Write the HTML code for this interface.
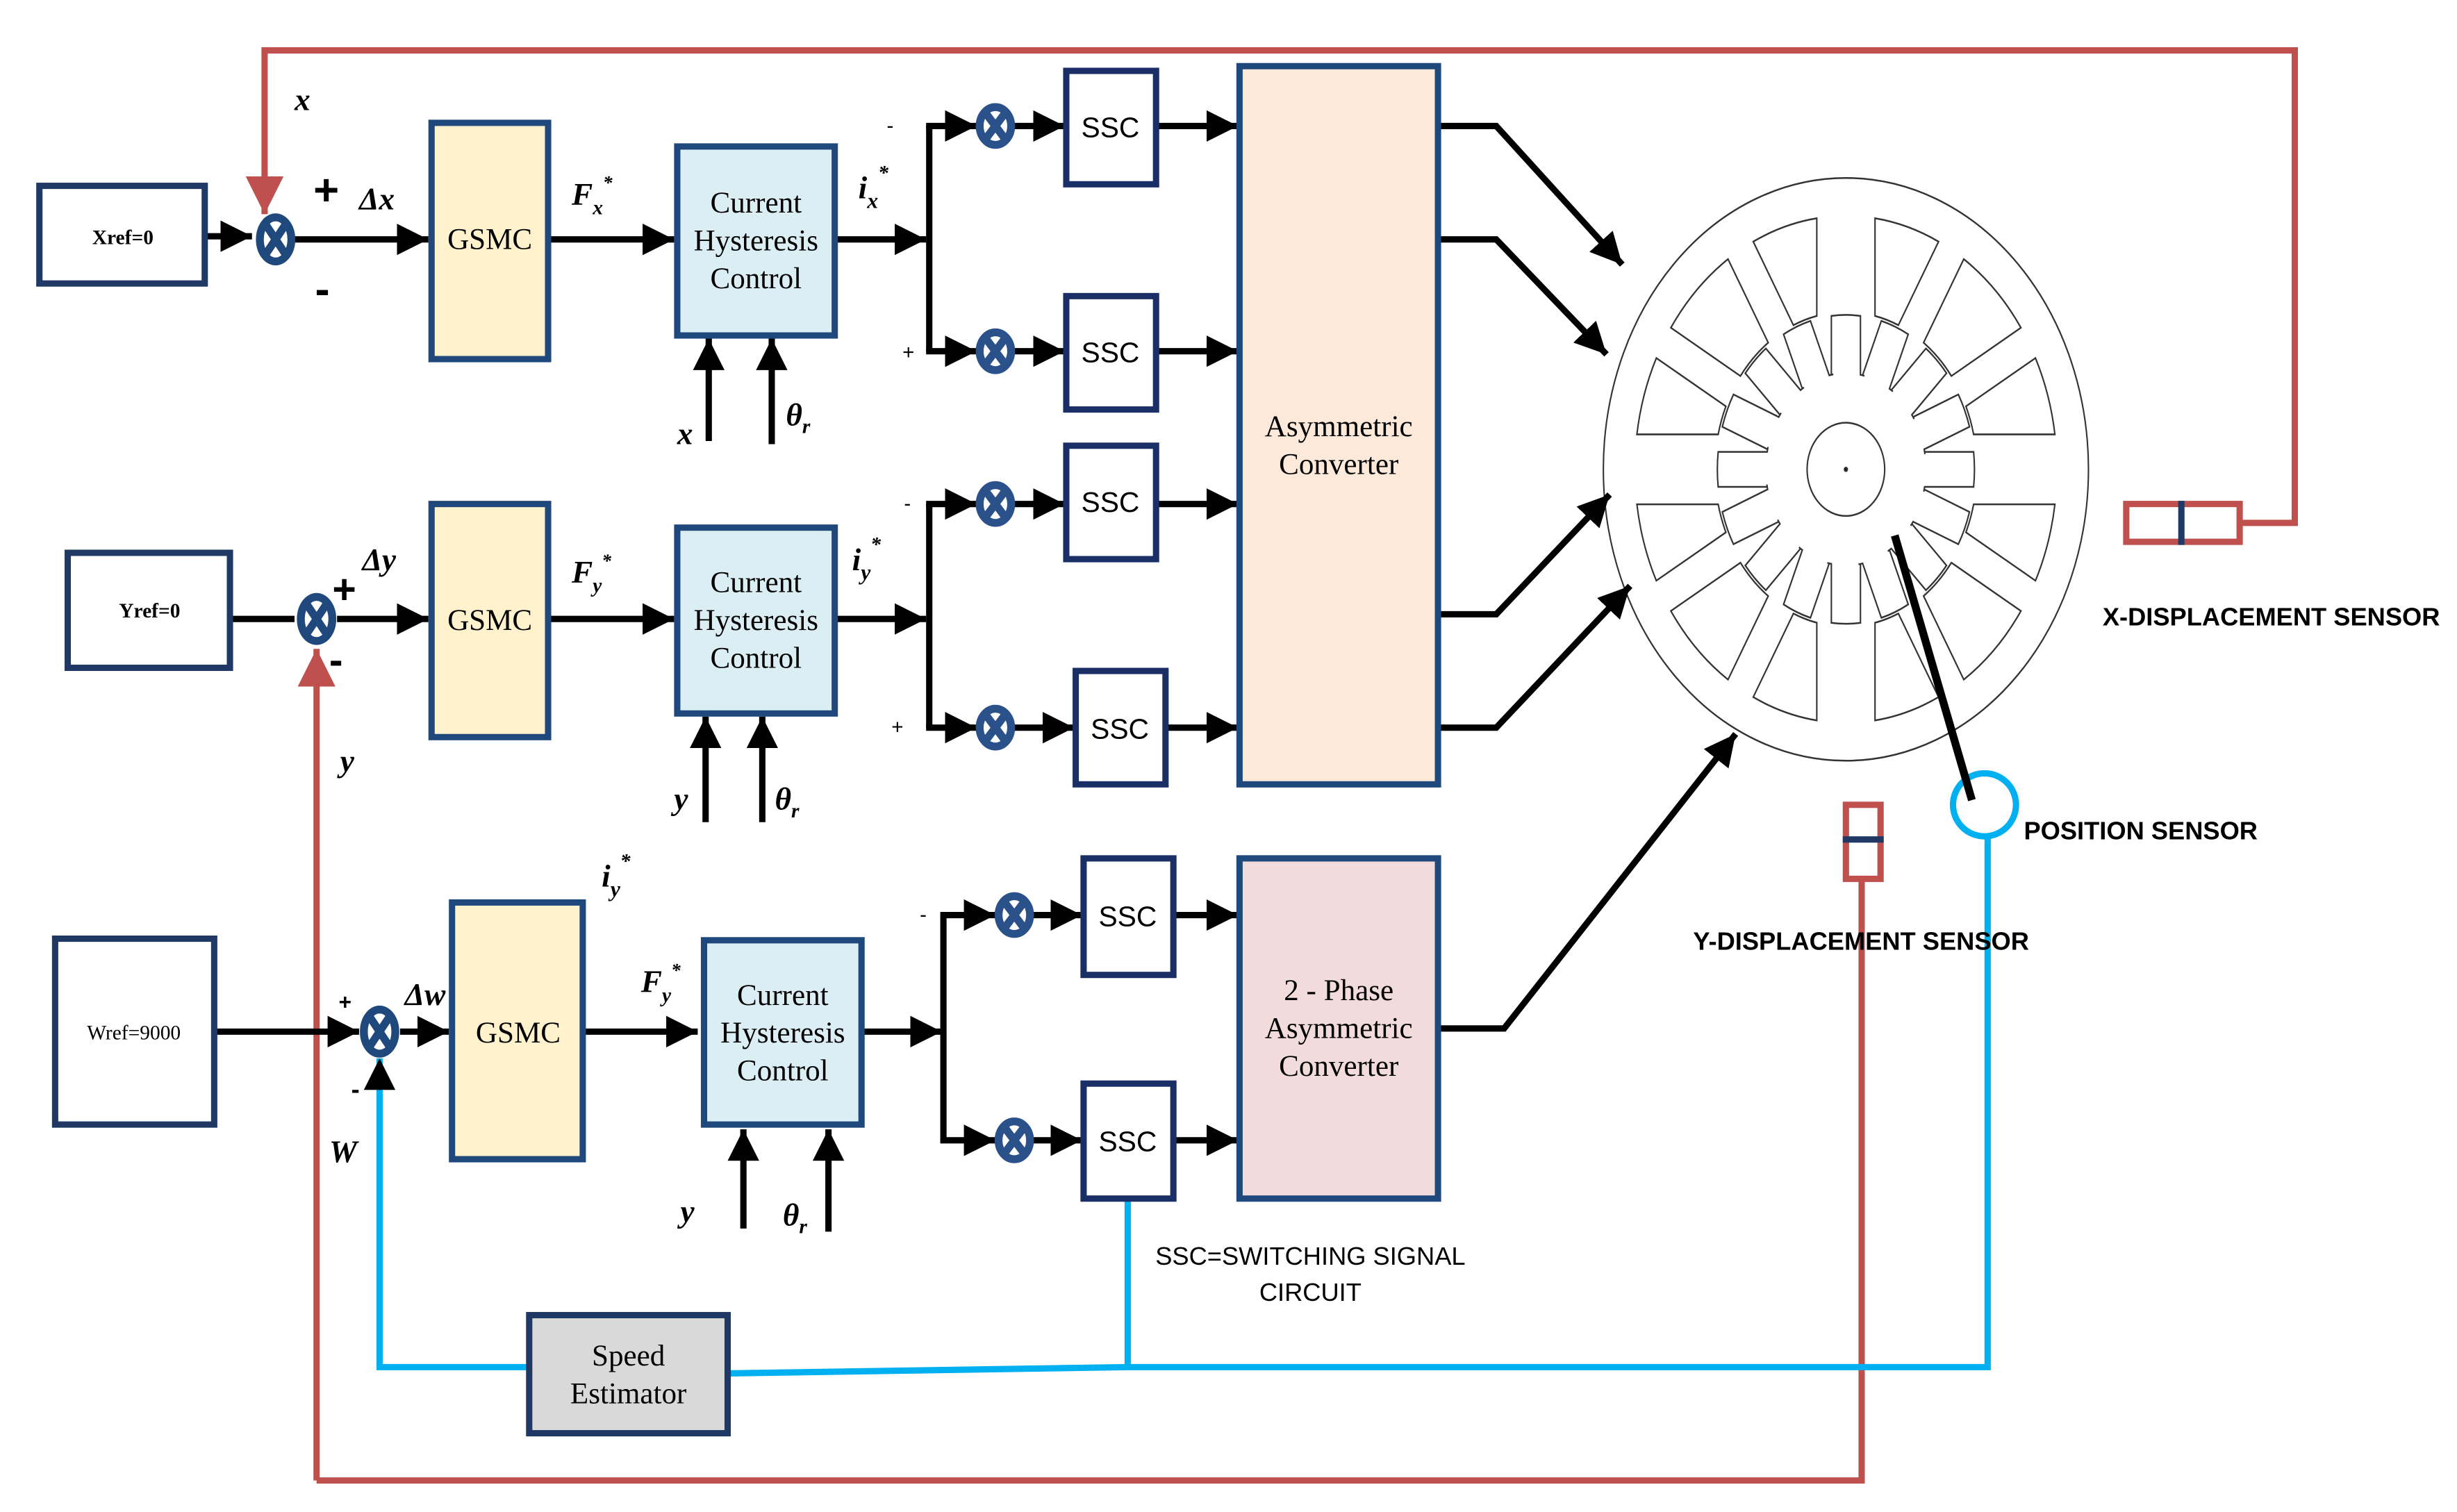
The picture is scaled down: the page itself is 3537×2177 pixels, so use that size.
<!DOCTYPE html>
<html><head><meta charset="utf-8"><style>
html,body{margin:0;padding:0;background:#fff;}
svg{display:block;}
.serif{font-family:"Liberation Serif",serif;}
.sans{font-family:"Liberation Sans",sans-serif;}
</style></head><body>
<svg width="3537" height="2177" viewBox="0 0 1560 960" preserveAspectRatio="none" xmlns="http://www.w3.org/2000/svg">
<defs>
<marker id="a" viewBox="0 0 10 10" refX="10" refY="5" markerWidth="5" markerHeight="5" markerUnits="strokeWidth" orient="auto"><path d="M0,0L10,5L0,10z" fill="#000"/></marker>
<marker id="ar" viewBox="0 0 10 10" refX="10" refY="5" markerWidth="6" markerHeight="6" markerUnits="strokeWidth" orient="auto"><path d="M0,0L10,5L0,10z" fill="#c0504d"/></marker>
<marker id="ab" viewBox="0 0 10 10" refX="10" refY="5" markerWidth="5" markerHeight="6" markerUnits="strokeWidth" orient="auto"><path d="M0,0L10,5L0,10z" fill="#000"/></marker>
<g id="j"><ellipse cx="0" cy="0" rx="10" ry="14" fill="#fff" stroke="#1f497d" stroke-width="5"/><path d="M-6,-9L6,9M6,-9L-6,9" stroke="#1f497d" stroke-width="5"/></g>
<g id="js"><ellipse cx="0" cy="0" rx="10" ry="12" fill="#fff" stroke="#2a5189" stroke-width="5"/><path d="M-6,-8L6,8M6,-8L-6,8" stroke="#2a5189" stroke-width="5"/></g>
<g id="quad">
<path d="M52.65,12 L86.17,12 A87 87 0 0 1 78.16,38.20 L49.48,21.63 A54 54 0 0 0 52.65,12Z"/>
<path d="M43.48,32.03 L72.16,48.60 A87 87 0 0 1 48.60,72.16 L32.03,43.48 A54 54 0 0 0 43.48,32.03Z"/>
<path d="M21.63,49.48 L38.20,78.16 A87 87 0 0 1 12,86.17 L12,52.65 A54 54 0 0 0 21.63,49.48Z"/>
</g>
<path id="tooth" d="M32.45,-6 L52.66,-6 A53,53 0 0 1 52.66,6 L32.45,6 A33,33 0 0 1 32.10,7.67"/>
</defs>

<!-- Motor -->
<g transform="translate(1172,298) scale(1.54,1.85)" fill="none" stroke="#333" stroke-width="0.6">
<ellipse cx="0" cy="0" rx="100" ry="100"/>
<use href="#quad"/><use href="#quad" transform="rotate(90)"/><use href="#quad" transform="rotate(180)"/><use href="#quad" transform="rotate(270)"/>
<use href="#tooth" transform="rotate(0)"/><use href="#tooth" transform="rotate(22.5)"/><use href="#tooth" transform="rotate(45)"/><use href="#tooth" transform="rotate(67.5)"/>
<use href="#tooth" transform="rotate(90)"/><use href="#tooth" transform="rotate(112.5)"/><use href="#tooth" transform="rotate(135)"/><use href="#tooth" transform="rotate(157.5)"/>
<use href="#tooth" transform="rotate(180)"/><use href="#tooth" transform="rotate(202.5)"/><use href="#tooth" transform="rotate(225)"/><use href="#tooth" transform="rotate(247.5)"/>
<use href="#tooth" transform="rotate(270)"/><use href="#tooth" transform="rotate(292.5)"/><use href="#tooth" transform="rotate(315)"/><use href="#tooth" transform="rotate(337.5)"/>
<ellipse cx="0" cy="0" rx="16" ry="16"/>
<circle cx="0" cy="0" r="0.6" fill="#000"/>
</g>

<!-- red feedback -->
<g fill="none" stroke="#c0504d" stroke-width="4">
<path d="M1422,332H1457V32H168V136" marker-end="url(#ar)"/>
<rect x="1350" y="320" width="72" height="24"/>
<path d="M201,940H1182V558" />
<path d="M201,940V412" marker-end="url(#ar)"/>
<rect x="1172" y="511" width="22" height="47"/>
</g>
<path d="M1385,318V346" stroke="#1f3864" stroke-width="4"/>
<path d="M1170,533H1196" stroke="#1f3864" stroke-width="4"/>

<!-- blue -->
<g fill="none" stroke="#00b0f0" stroke-width="4">
<path d="M336,868H241V672" marker-end="url(#ab)"/>
<path d="M462,872L716,868H1262V531"/>
<path d="M716,761V868"/>
<circle cx="1260" cy="511" r="20"/>
</g>
<path d="M1203,340L1252,508" stroke="#000" stroke-width="5"/>

<!-- black connectors -->
<g fill="none" stroke="#000" stroke-width="4">
<path d="M130,150H160" marker-end="url(#a)"/>
<path d="M187,152H272" marker-end="url(#a)"/>
<path d="M348,152H428" marker-end="url(#a)"/>
<path d="M530,152H588" marker-end="url(#a)"/>
<path d="M590,80V223"/><path d="M588,80H620" marker-end="url(#a)"/><path d="M588,223H620" marker-end="url(#a)"/>
<path d="M644,80H676" marker-end="url(#a)"/><path d="M644,223H676" marker-end="url(#a)"/>
<path d="M734,80H786" marker-end="url(#a)"/><path d="M734,223H786" marker-end="url(#a)"/>
<path d="M450,280V215" marker-end="url(#a)"/><path d="M490,282V215" marker-end="url(#a)"/>

<path d="M146,393H187" />
<path d="M214,393H272" marker-end="url(#a)"/>
<path d="M348,393H428" marker-end="url(#a)"/>
<path d="M530,393H588" marker-end="url(#a)"/>
<path d="M590,320V462"/><path d="M588,320H620" marker-end="url(#a)"/><path d="M588,462H620" marker-end="url(#a)"/>
<path d="M644,320H676" marker-end="url(#a)"/><path d="M644,462H682" marker-end="url(#a)"/>
<path d="M734,320H786" marker-end="url(#a)"/><path d="M740,462H786" marker-end="url(#a)"/>
<path d="M448,522V455" marker-end="url(#a)"/><path d="M484,522V455" marker-end="url(#a)"/>

<path d="M136,655H228" marker-end="url(#a)"/>
<path d="M254,655H285" marker-end="url(#a)"/>
<path d="M370,655H443" marker-end="url(#a)"/>
<path d="M547,655H598" marker-end="url(#a)"/>
<path d="M599,581V724"/><path d="M597,581H632" marker-end="url(#a)"/><path d="M597,724H632" marker-end="url(#a)"/>
<path d="M656,581H687" marker-end="url(#a)"/><path d="M656,724H687" marker-end="url(#a)"/>
<path d="M745,581H786" marker-end="url(#a)"/><path d="M745,724H786" marker-end="url(#a)"/>
<path d="M472,780V717" marker-end="url(#a)"/><path d="M526,782V717" marker-end="url(#a)"/>

<path d="M913,80H950L1030,168" marker-end="url(#a)"/>
<path d="M913,152H950L1020,225" marker-end="url(#a)"/>
<path d="M913,390H950L1022,314" marker-end="url(#a)"/>
<path d="M913,462H950L1035,372" marker-end="url(#a)"/>
<path d="M913,653H955L1102,466" marker-end="url(#a)"/>
</g>

<!-- junctions -->
<use href="#j" x="175" y="152"/>
<use href="#j" x="201" y="393"/>
<use href="#j" x="241" y="655"/>
<use href="#js" x="632" y="80"/><use href="#js" x="632" y="223"/>
<use href="#js" x="632" y="320"/><use href="#js" x="632" y="462"/>
<use href="#js" x="644" y="581"/><use href="#js" x="644" y="724"/>

<!-- boxes -->
<g stroke="#1f497d" stroke-width="4">
<rect x="25" y="118" width="105" height="62" fill="#fff" stroke="#1f3864"/>
<rect x="43" y="351" width="103" height="73" fill="#fff" stroke="#1f3864"/>
<rect x="35" y="596" width="101" height="118" fill="#fff" stroke="#1f3864"/>
<rect x="274" y="78" width="74" height="150" fill="#fff2cc"/>
<rect x="274" y="320" width="74" height="148" fill="#fff2cc"/>
<rect x="287" y="573" width="83" height="163" fill="#fff2cc"/>
<rect x="430" y="93" width="100" height="120" fill="#dbeef4"/>
<rect x="430" y="335" width="100" height="118" fill="#dbeef4"/>
<rect x="447" y="597" width="100" height="117" fill="#dbeef4"/>
<rect x="677" y="45" width="57" height="72" fill="#fff" stroke="#1a2f66"/>
<rect x="677" y="188" width="57" height="72" fill="#fff" stroke="#1a2f66"/>
<rect x="677" y="283" width="57" height="72" fill="#fff" stroke="#1a2f66"/>
<rect x="683" y="426" width="57" height="72" fill="#fff" stroke="#1a2f66"/>
<rect x="688" y="545" width="57" height="74" fill="#fff" stroke="#1a2f66"/>
<rect x="688" y="688" width="57" height="73" fill="#fff" stroke="#1a2f66"/>
<rect x="787" y="42" width="126" height="456" fill="#fde9d9"/>
<rect x="787" y="545" width="126" height="216" fill="#f2dcdb"/>
<rect x="336" y="835" width="126" height="75" fill="#d9d9d9" stroke="#1f3864"/>
</g>

<!-- texts -->
<g class="serif" fill="#000" text-anchor="middle">
<text x="78" y="155" font-size="13" font-weight="bold">Xref=0</text>
<text x="95" y="392" font-size="13" font-weight="bold">Yref=0</text>
<text x="85" y="660" font-size="13">Wref=9000</text>
<g font-size="19">
<text x="311" y="158">GSMC</text><text x="311" y="400">GSMC</text><text x="329" y="662">GSMC</text>
<text x="480" y="135">Current</text><text x="480" y="159">Hysteresis</text><text x="480" y="183">Control</text>
<text x="480" y="376">Current</text><text x="480" y="400">Hysteresis</text><text x="480" y="424">Control</text>
<text x="497" y="638">Current</text><text x="497" y="662">Hysteresis</text><text x="497" y="686">Control</text>
<text x="850" y="277">Asymmetric</text><text x="850" y="301">Converter</text>
<text x="850" y="635">2 - Phase</text><text x="850" y="659">Asymmetric</text><text x="850" y="683">Converter</text>
<text x="399" y="867">Speed</text><text x="399" y="891">Estimator</text>
</g>
</g>
<g class="sans" font-size="18" text-anchor="middle" fill="#000">
<text x="705" y="87">SSC</text><text x="705" y="230">SSC</text><text x="705" y="325">SSC</text>
<text x="711" y="469">SSC</text><text x="716" y="588">SSC</text><text x="716" y="731">SSC</text>
</g>
<g class="sans" font-size="16" fill="#000">
<text x="832" y="803" text-anchor="middle">SSC=SWITCHING SIGNAL</text>
<text x="832" y="826" text-anchor="middle">CIRCUIT</text>
<text x="1335" y="397" font-weight="bold">X-DISPLACEMENT SENSOR</text>
<text x="1285" y="533" font-weight="bold">POSITION SENSOR</text>
<text x="1075" y="603" font-weight="bold">Y-DISPLACEMENT SENSOR</text>
</g>
<g class="serif" font-style="italic" font-weight="bold" fill="#000" font-size="20">
<text x="187" y="70">x</text>
<text x="228" y="133">Δx</text>
<text x="363" y="130">F<tspan font-size="13" dy="6">x</tspan><tspan font-size="12" dy="-16">*</tspan></text>
<text x="545" y="126">i<tspan font-size="14" dy="6">x</tspan><tspan font-size="13" dy="-18">*</tspan></text>
<text x="430" y="282">x</text>
<text x="499" y="270">θ<tspan font-size="13" dy="5">r</tspan></text>
<text x="230" y="362">Δy</text>
<text x="363" y="370">F<tspan font-size="13" dy="6">y</tspan><tspan font-size="12" dy="-16">*</tspan></text>
<text x="541" y="362">i<tspan font-size="14" dy="6">y</tspan><tspan font-size="13" dy="-18">*</tspan></text>
<text x="216" y="490">y</text>
<text x="428" y="514">y</text>
<text x="492" y="514">θ<tspan font-size="13" dy="5">r</tspan></text>
<text x="382" y="563">i<tspan font-size="14" dy="6">y</tspan><tspan font-size="13" dy="-18">*</tspan></text>
<text x="257" y="638">Δw</text>
<text x="407" y="630">F<tspan font-size="13" dy="6">y</tspan><tspan font-size="12" dy="-16">*</tspan></text>
<text x="209" y="738">W</text>
<text x="432" y="776">y</text>
<text x="497" y="778">θ<tspan font-size="13" dy="5">r</tspan></text>
</g>
<g class="sans" font-weight="bold" fill="#000">
<text x="199" y="130" font-size="28">+</text>
<text x="200" y="193" font-size="28">-</text>
<text x="211" y="383" font-size="26">+</text>
<text x="209" y="428" font-size="26">-</text>
<text x="215" y="641" font-size="14">+</text>
<text x="223" y="697" font-size="16">-</text>
</g>
<g class="sans" fill="#000" font-size="13">
<text x="563" y="84">-</text><text x="573" y="228">+</text>
<text x="574" y="324">-</text><text x="566" y="466">+</text>
<text x="584" y="585">-</text>
</g>
</svg>
</body></html>
